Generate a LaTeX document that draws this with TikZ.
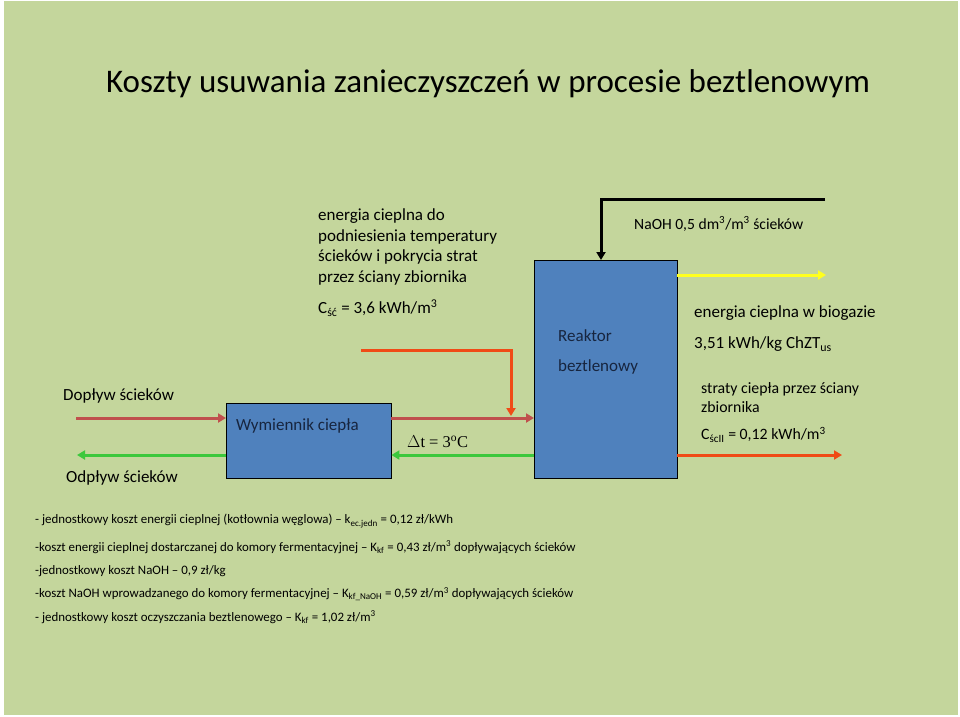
\documentclass[tikz,border=0pt]{standalone}
\usepackage{fontspec}
\setmainfont{Carlito}
\newfontfamily\szeryf{Liberation Serif}
\usetikzlibrary{arrows.meta}

\definecolor{tlo}{HTML}{C4D69C}
\definecolor{niebieski}{HTML}{4F81BD}
\definecolor{granat}{HTML}{17253F}
\definecolor{ceglasty}{HTML}{C0504D}
\definecolor{pomaranczowy}{HTML}{F04B16}
\definecolor{zielony}{HTML}{3CC83C}
\definecolor{zolty}{HTML}{FFFF1E}

\tikzset{
  blok/.style={draw=black, thin, fill=niebieski, inner sep=0pt, anchor=north west},
  opis/.style={anchor=west, inner sep=0pt, align=left, font=\fontsize{17}{20.7}\selectfont},
  drobny/.style={anchor=west, inner sep=0pt, font=\fontsize{12.9}{15}\selectfont},
  strzalka/.style={-{Triangle[length=8pt,width=9pt]}, line width=3pt},
}

\begin{document}
\begin{tikzpicture}[x=1pt, y=-1pt]
        \fill[white] (0,0) rectangle (960,716);
        \fill[tlo] (4,1) rectangle (958,715);

        % title
        \node[inner sep=0pt, font=\fontsize{33}{40}\selectfont] (tytul) at (488,84)
            {Koszty usuwania zanieczyszczeń w procesie beztlenowym};

        % heat exchanger and reactor
        \node[blok, minimum width=165pt, minimum height=75pt] (wymiennik) at (226,403) {};
        \node[blok, minimum width=143pt, minimum height=218pt] (reaktor) at (534,260) {};

        \node[opis, text=granat] (wymiennik tekst) at (236,426) {Wymiennik ciepła};
        \node[opis, text=granat] (reaktor tekst1) at (558,336) {Reaktor};
        \node[opis, text=granat] (reaktor tekst2) at (558,367) {beztlenowy};

        % free ends of the flows
        \coordinate (doplyw) at (76,418);
        \coordinate (odplyw) at (77,455);
        \coordinate (cieplo) at (361,350);
        \coordinate (cieplo wejscie) at (511,416);
        \coordinate (naoh) at (825,199);
        \coordinate (biogaz) at (826,275);
        \coordinate (straty) at (842,455);

        % sewage in (red) and out (green)
        \draw[strzalka, ceglasty] (doplyw) -- (wymiennik.west |- doplyw);
        \draw[strzalka, ceglasty] (wymiennik.east |- doplyw) -- (reaktor.west |- doplyw);
        \draw[strzalka, zielony] (reaktor.west |- odplyw) -- (wymiennik.east |- odplyw);
        \draw[strzalka, zielony] (wymiennik.west |- odplyw) -- (odplyw);

        % heat, NaOH, biogas, losses
        \draw[strzalka, pomaranczowy] (cieplo) -| (cieplo wejscie);
        \draw[strzalka, black] (naoh) -| ([xshift=67pt]reaktor.north west);
        \draw[strzalka, zolty] (reaktor.east |- biogaz) -- (biogaz);
        \draw[strzalka, pomaranczowy] (reaktor.east |- straty) -- (straty);

        % labels
        \node[opis] (dopl) at (63,396) {Dopływ ścieków};
        \node[opis] (odpl) at (66,478) {Odpływ ścieków};
        \node[opis] (energia) at (318,247) {energia cieplna do\\podniesienia temperatury\\ścieków i pokrycia strat\\przez ściany zbiornika};
        \node[opis] (csc) at (318,308) {C\textsubscript{ść} = 3,6 kWh/m\textsuperscript{3}};
        \node[opis, font=\fontsize{16.5}{20}\szeryf] (dt) at (407,442) {$\Delta$t = 3\textsuperscript{o}C};
        \node[opis, font=\fontsize{15.6}{18}\selectfont] (naoh tekst) at (634,224) {NaOH 0,5 dm\textsuperscript{3}/m\textsuperscript{3} ścieków};
        \node[opis] (biogaz tekst1) at (694,313) {energia cieplna w biogazie};
        \node[opis] (biogaz tekst2) at (694,344) {3,51 kWh/kg ChZT\textsubscript{us}};
        \node[opis, font=\fontsize{15.8}{19}\selectfont] (straty tekst) at (701,397.5) {straty ciepła przez ściany\\zbiornika};
        \node[opis, font=\fontsize{15.8}{19}\selectfont] (csc2) at (701,435) {C\textsubscript{ścII} = 0,12 kWh/m\textsuperscript{3}};

        % costs
        \node[drobny] (koszt1) at (35,521) {- jednostkowy koszt energii cieplnej (kotłownia węglowa) – k\textsubscript{ec.jedn} = 0,12 zł/kWh};
        \node[drobny] (koszt2) at (35,547) {-koszt energii cieplnej dostarczanej do komory fermentacyjnej – K\textsubscript{kf} = 0,43 zł/m\textsuperscript{3} dopływających ścieków};
        \node[drobny] (koszt3) at (35,571) {-jednostkowy koszt NaOH – 0,9 zł/kg};
        \node[drobny] (koszt4) at (35,594) {-koszt NaOH wprowadzanego do komory fermentacyjnej – K\textsubscript{kf\_NaOH} = 0,59 zł/m\textsuperscript{3} dopływających ścieków};
        \node[drobny] (koszt5) at (35,617) {- jednostkowy koszt oczyszczania beztlenowego – K\textsubscript{kf} = 1,02 zł/m\textsuperscript{3}};
    \end{tikzpicture}
\end{document}
